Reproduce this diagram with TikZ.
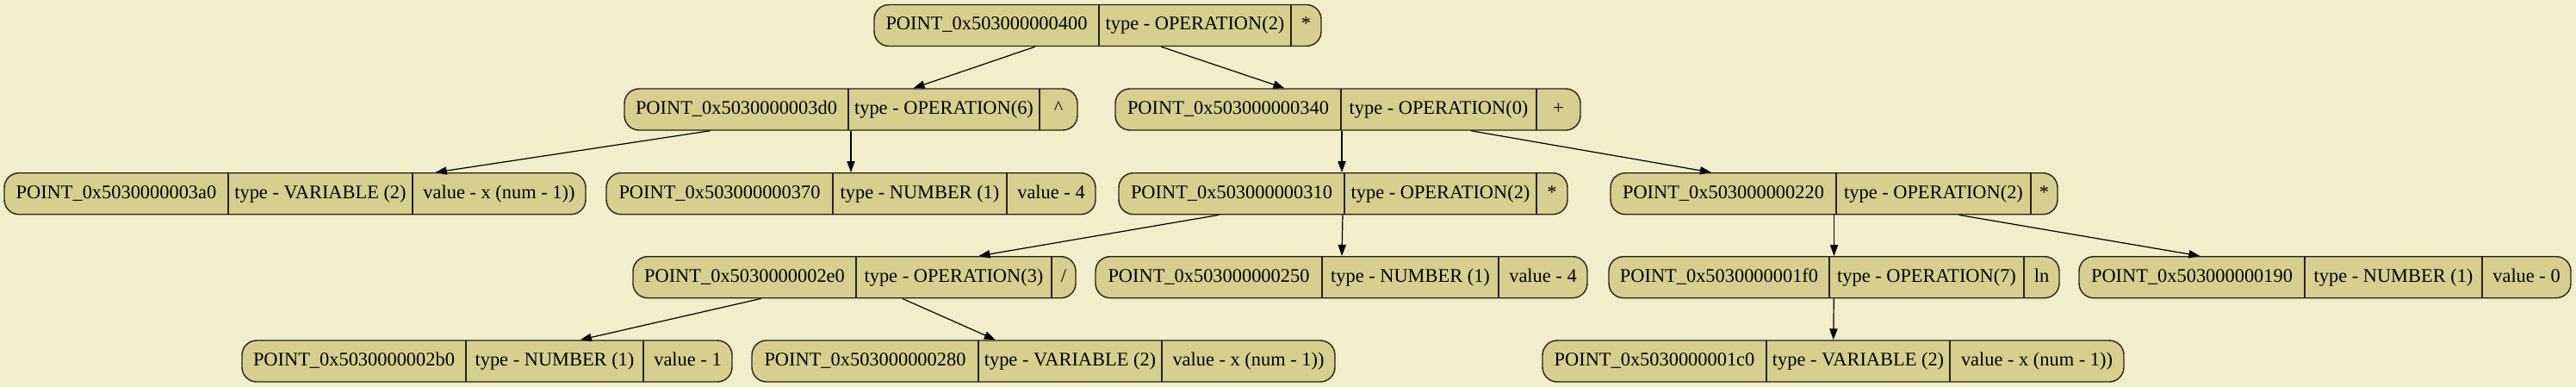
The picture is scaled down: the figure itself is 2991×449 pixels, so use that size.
\documentclass[tikz,border=0pt]{standalone}
\usepackage{fontspec}
\setmainfont{Liberation Serif}
\usetikzlibrary{arrows.meta}
\definecolor{PaperBg}{RGB}{242,237,202}
\definecolor{NodeFill}{RGB}{215,207,143}
\definecolor{InkGray}{RGB}{35,35,28}

% one record: name, row y, left, divider 1, divider 2, right, three fields
\newcommand{\recnode}[9]{%
  \pgfmathsetmacro{\recw}{(#6-#3)*0.5}%
  \node[recbox,minimum width=\recw pt] (#1) at ({(#3+#6)/2},#2) {};
  \draw[recsep] (#4,#2-24) -- (#4,#2+24);
  \draw[recsep] (#5,#2-24) -- (#5,#2+24);
  \node[rectext] (#1-a) at ({(#3+#4)/2},#2+5.5) {#7};
  \node[rectext] (#1-b) at ({(#4+#5)/2},#2+5.5) {#8};
  \node[rectext] (#1-c) at ({(#5+#6)/2},#2+5.5) {#9};
}

\begin{document}
\begin{tikzpicture}[x=0.5pt,y=-0.5pt,
    recbox/.style={draw=InkGray,fill=NodeFill,line width=.7pt,rounded corners=8.5pt,
      minimum height=24pt,inner sep=0pt},
    recsep/.style={draw=InkGray,line width=.7pt},
    rectext/.style={anchor=base,inner sep=0pt,font=\fontsize{11.2}{13}\selectfont},
    edge/.style={-{Triangle[length=6.5pt,width=4.6pt]},line width=.6pt}]
  \fill[PaperBg] (0,0) rectangle (2991,449);
  \useasboundingbox (0,0) rectangle (2991,449);

  % row 1
  \recnode{p400}{29.5}{1015}{1276}{1499}{1534}{POINT\_0x503000000400}{type - OPERATION(2)}{*}
  % row 2
  \recnode{p3d0}{127}{725}{985}{1207}{1251}{POINT\_0x5030000003d0}{type - OPERATION(6)}{\textasciicircum}
  \recnode{p340}{127}{1295}{1557}{1784}{1835}{POINT\_0x503000000340}{type - OPERATION(0)}{+}
  % row 3
  \recnode{p3a0}{224.7}{5}{265}{479}{680}{POINT\_0x5030000003a0}{type - VARIABLE (2)}{value - x (num - 1))}
  \recnode{p370}{224.7}{704}{967}{1169}{1272}{POINT\_0x503000000370}{type - NUMBER (1)}{value - 4}
  \recnode{p310}{224.7}{1299}{1561}{1784}{1820}{POINT\_0x503000000310}{type - OPERATION(2)}{*}
  \recnode{p220}{224.7}{1870}{2132}{2358}{2389}{POINT\_0x503000000220}{type - OPERATION(2)}{*}
  % row 4
  \recnode{p2e0}{321.7}{735}{994}{1221}{1249}{POINT\_0x5030000002e0}{type - OPERATION(3)}{/}
  \recnode{p250}{321.7}{1272}{1535}{1740}{1843}{POINT\_0x503000000250}{type - NUMBER (1)}{value - 4}
  \recnode{p1f0}{321.7}{1868}{2124}{2350}{2391}{POINT\_0x5030000001f0}{type - OPERATION(7)}{ln}
  \recnode{p190}{321.7}{2414}{2676}{2882}{2985}{POINT\_0x503000000190}{type - NUMBER (1)}{value - 0}
  % row 5
  \recnode{p2b0}{419}{281}{541}{747}{850}{POINT\_0x5030000002b0}{type - NUMBER (1)}{value - 1}
  \recnode{p280}{419}{873}{1136}{1349}{1550}{POINT\_0x503000000280}{type - VARIABLE (2)}{value - x (num - 1))}
  \recnode{p1c0}{419}{1791}{2051}{2264}{2466}{POINT\_0x5030000001c0}{type - VARIABLE (2)}{value - x (num - 1))}

  % edges
  \draw[edge] (p400) -- (p3d0);
  \draw[edge] (p400) -- (p340);
  \draw[edge] (p3d0) -- (p3a0);
  \draw[edge] (p3d0) -- (p370);
  \draw[edge] (p340.south -| 1558,0) -- (p310.north -| 1558,0);
  \draw[edge] (p340) -- (p220);
  \draw[edge] (p310) -- (p2e0);
  \draw[edge] (p310) -- (p250);
  \draw[edge] (p220) -- (p1f0);
  \draw[edge] (p220) -- (p190);
  \draw[edge] (p2e0) -- (p2b0);
  \draw[edge] (p2e0) -- (p280);
  \draw[edge] (p1f0) -- (p1c0);
\end{tikzpicture}
\end{document}
